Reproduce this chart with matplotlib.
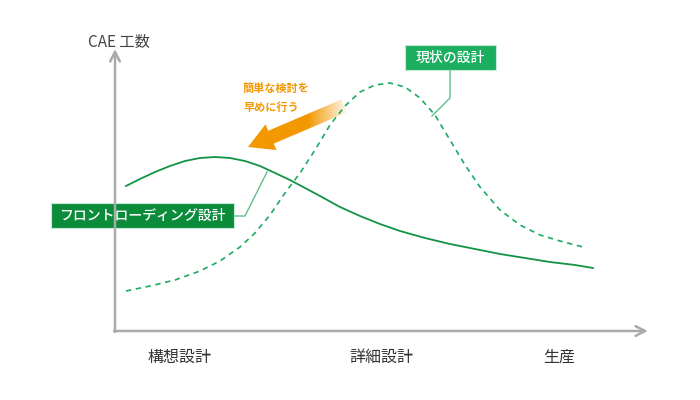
import numpy as np
import matplotlib
matplotlib.use("Agg")
import matplotlib.pyplot as plt
from matplotlib.patches import Rectangle, FancyArrow

plt.rcParams['font.family'] = ['Noto Sans CJK JP', 'DejaVu Sans']

# curves (pixel space, y grows downward)
front_x = [126, 140, 155, 170, 185, 200, 215, 230, 245, 260, 275, 290, 305, 320,
           340, 360, 380, 400, 425, 450, 475, 500, 525, 550, 575, 593]
front_y = [186, 179, 172, 166, 161, 158, 157, 158, 161, 166, 173, 180, 188, 196,
           207, 216, 224, 231, 238, 244, 249, 254, 258, 262, 265, 268]

now_x = [126, 150, 175, 200, 220, 240, 255, 270, 285, 300, 315, 330, 345, 360,
         375, 390, 405, 420, 435, 450, 465, 480, 500, 520, 540, 560, 583]
now_y = [291, 286, 280, 271, 261, 247, 233, 215, 193, 173, 150, 125, 106, 92,
         85, 83, 87, 98, 115, 140, 165, 187, 210, 225, 235, 241, 247]

phase_labels = ["構想設計", "詳細設計", "生産"]
phase_x = [180, 381, 559]

y_label = "CAE 工数"
now_label = "現状の設計"
front_label = "フロントローディング設計"
arrow_note = "簡単な検討を\n早めに行う"

axis_gray = "#aaaaaa"
green_dash = "#1aaa60"
green_solid = "#119443"
box_light = "#1aae5e"
box_dark = "#0b8c3b"
leader = "#5cc08a"
orange = "#f39800"

fig = plt.figure(figsize=(7, 4), dpi=100)
ax = fig.add_axes([0, 0, 1, 1])
ax.set_xlim(0, 700)
ax.set_ylim(400, 0)
ax.axis('off')

# axes with open arrow heads
ax.annotate('', xy=(115, 49), xytext=(115, 332),
            arrowprops=dict(arrowstyle='->,head_length=0.7,head_width=0.35',
                            color=axis_gray, lw=1.8, shrinkA=0, shrinkB=0))
ax.annotate('', xy=(648, 331), xytext=(114, 331),
            arrowprops=dict(arrowstyle='->,head_length=0.7,head_width=0.35',
                            color=axis_gray, lw=1.8, shrinkA=0, shrinkB=0))

ax.text(119, 42, y_label, ha='center', va='center', fontsize=11, color='#444444')
for lab, x in zip(phase_labels, phase_x):
    ax.text(x, 357, lab, ha='center', va='center', fontsize=11.5, color='#333333')

# curves
ax.plot(now_x, now_y, color=green_dash, lw=1.2, linestyle=(0, (3.2, 2.8)))
ax.plot(front_x, front_y, color=green_solid, lw=1.3)

# leader lines
ax.plot([450, 450, 432], [70, 98, 116], color=leader, lw=1)
ax.plot([234, 245, 267], [216, 216, 172], color=leader, lw=1)

# label boxes
ax.add_patch(Rectangle((405, 45), 91, 25, facecolor=box_light, edgecolor='#c8ead6', lw=0.8))
ax.text(450.5, 57.5, now_label, ha='center', va='center', fontsize=10,
        color='white', fontweight='medium')
ax.add_patch(Rectangle((51, 203), 183, 25, facecolor=box_dark, edgecolor='#c8ead6', lw=0.8))
ax.text(142.5, 215.5, front_label, ha='center', va='center', fontsize=10,
        color='white', fontweight='medium')

# orange arrow fading toward its tail
arr = FancyArrow(344, 106, -96, 41, width=14, head_width=28, head_length=25,
                 length_includes_head=True, facecolor='none', edgecolor='none')
ax.add_patch(arr)
grad = np.zeros((2, 256, 4))
grad[..., :3] = matplotlib.colors.to_rgb(orange)
xs = np.linspace(235, 355, 256)
grad[..., 3] = np.clip((350 - xs) / 42, 0, 1)
im = ax.imshow(grad, extent=(235, 355, 160, 90), aspect='auto', interpolation='bilinear')
im.set_clip_path(arr)
ax.set_xlim(0, 700)
ax.set_ylim(400, 0)

ax.text(243, 98, arrow_note, ha='left', va='center', fontsize=8, color=orange,
        fontweight='bold', linespacing=1.55)

fig.savefig("out.png", dpi=100)
